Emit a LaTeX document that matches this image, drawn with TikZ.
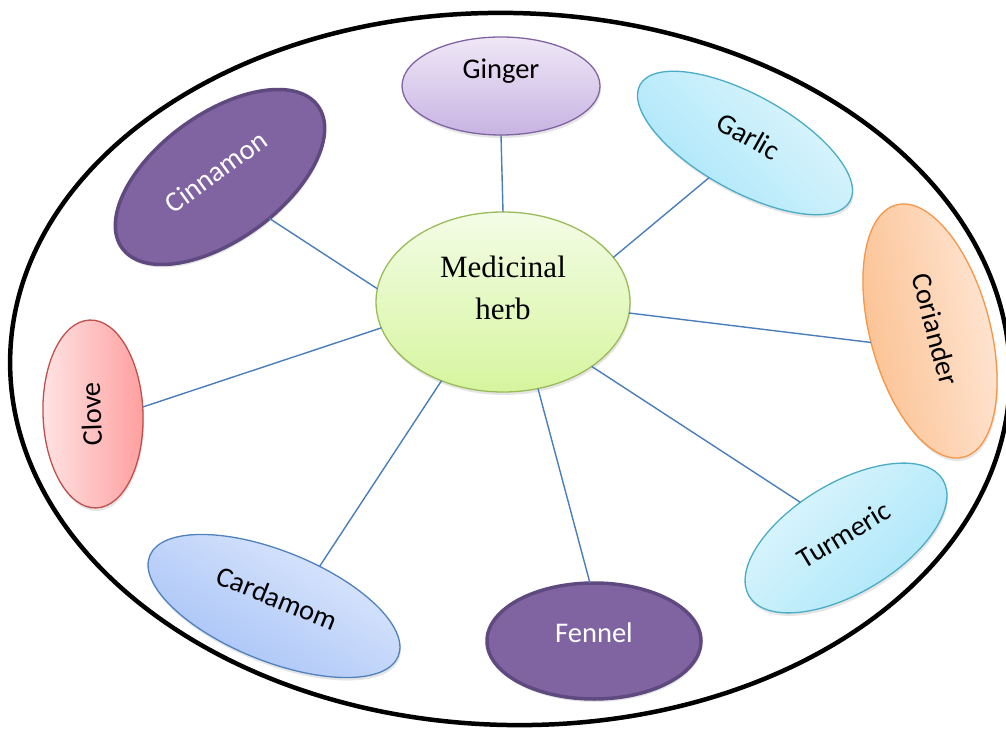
\documentclass[tikz,border=0pt]{standalone}
\usepackage{fontspec}
\setmainfont{Carlito}
\newfontfamily\herbserif{Liberation Serif}
\usetikzlibrary{shapes.geometric,shadows}
\definecolor{connblue}{HTML}{4A7EBB}
\definecolor{herbgreen}{HTML}{9BBB59}
\definecolor{herbtop}{HTML}{F3FCE6}
\definecolor{herbbot}{HTML}{D6F59E}
\definecolor{gingerline}{HTML}{8064A2}
\definecolor{gingertop}{HTML}{EFE8F7}
\definecolor{gingerbot}{HTML}{C8B3E2}
\definecolor{aqualine}{HTML}{4BACC6}
\definecolor{aquatop}{HTML}{E2F7FD}
\definecolor{aquabot}{HTML}{A6E5F9}
\definecolor{orangeline}{HTML}{F79646}
\definecolor{orangetop}{HTML}{FFE9DA}
\definecolor{orangebot}{HTML}{FBBE8C}
\definecolor{redline}{HTML}{C0504D}
\definecolor{redtop}{HTML}{FFE4E4}
\definecolor{redbot}{HTML}{FF9E9E}
\definecolor{blueline}{HTML}{4F81BD}
\definecolor{bluetop}{HTML}{E0EAFC}
\definecolor{bluebot}{HTML}{A3C0F7}
\definecolor{purplefill}{HTML}{8064A2}
\definecolor{purpleline}{HTML}{5F4A80}
\begin{document}
\begin{tikzpicture}[x=1pt,y=1pt,
  herbbox/.style={ellipse, inner sep=0pt, outer sep=0pt,
    font=\fontsize{28.5}{34}\selectfont, text height=20pt,
    drop shadow={shadow xshift=1pt,shadow yshift=-3pt,opacity=0.2}},
  lightbox/.style={herbbox, line width=1.3pt},
  darkbox/.style={herbbox, fill=purplefill, draw=purpleline, line width=3.5pt, text=white},
  conn/.style={draw=connblue, line width=1.4pt}]
\useasboundingbox (0,0) rectangle (1006,729);
\fill[white] (0,0) rectangle (1006,729);
\node[ellipse, draw, line width=4.5pt, inner sep=0pt, outer sep=0pt,
  minimum width=1000pt, minimum height=712pt, rotate=-1.5] (frame) at (510,360) {};
% centre
\node[herbbox, draw=herbgreen, line width=1.3pt, top color=herbtop, bottom color=herbbot,
  minimum width=254pt, minimum height=180pt, align=center,
  font=\herbserif\fontsize{31}{42}\selectfont, text height=63pt, text depth=27pt]
  (herb) at (503,427) {Medicinal\\herb};
% satellites
\node[lightbox, draw=gingerline, top color=gingertop, bottom color=gingerbot,
  minimum width=198pt, minimum height=98pt, text depth=34pt] (ginger) at (501,643) {Ginger};
\node[lightbox, draw=aqualine, top color=aquatop, bottom color=aquabot, shading angle=-45,
  minimum width=240pt, minimum height=96pt, rotate=-29, text depth=16pt] (garlic) at (745,586) {Garlic};
\node[darkbox, minimum width=242pt, minimum height=126pt, rotate=36, text depth=14pt] (cinnamon) at (220,552) {Cinnamon};
\node[lightbox, draw=orangeline, top color=orangetop, bottom color=orangebot, shading angle=-80,
  minimum width=261pt, minimum height=120pt, rotate=-75, text depth=12pt] (coriander) at (930,398) {Coriander};
\node[lightbox, draw=redline, top color=redtop, bottom color=redbot, shading angle=90,
  minimum width=188pt, minimum height=100pt, rotate=92, text depth=4pt] (clove) at (93,315) {Clove};
\node[lightbox, draw=blueline, top color=bluetop, bottom color=bluebot, shading angle=-30,
  minimum width=268pt, minimum height=110pt, rotate=-22, text depth=18pt] (cardamom) at (274,123) {Cardamom};
\node[darkbox, minimum width=214pt, minimum height=116pt, text depth=18pt] (fennel) at (594,88) {Fennel};
\node[lightbox, draw=aqualine, top color=aquatop, bottom color=aquabot, shading angle=45,
  minimum width=226pt, minimum height=110pt, rotate=31, text depth=9pt] (turmeric) at (846,191) {Turmeric};
% connectors
\draw[conn] (herb.90) -- (ginger.south);
\draw[conn] (herb.22) -- (garlic.253);
\draw[conn] (herb.355.5) -- (coriander.266);
\draw[conn] (herb.324) -- (turmeric.111);
\draw[conn] (herb.292) -- (fennel.94);
\draw[conn] (herb.232) -- (cardamom.63);
\draw[conn] (herb.192) -- (clove.276);
\draw[conn] (herb.174) -- (cinnamon.284);
\end{tikzpicture}
\end{document}
